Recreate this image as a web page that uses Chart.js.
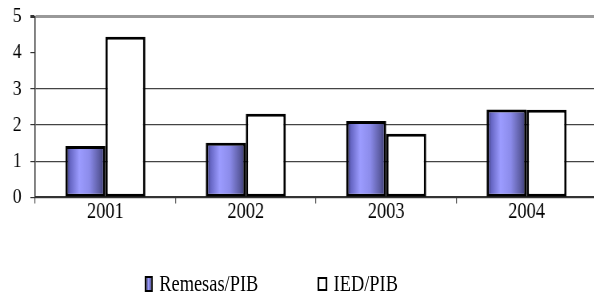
<!DOCTYPE html>
<html>
<head>
<meta charset="utf-8">
<script src="https://cdn.jsdelivr.net/npm/chart.js@4/dist/chart.umd.min.js"></script>
<style>
  html, body { margin: 0; padding: 0; background: #fff; overflow: hidden; }
  /* the original picture is squeezed sideways, so draw wide and condense */
  #wrap { position: relative; width: 750px; height: 297px; transform: scaleX(0.8); transform-origin: 0 0; }
  #chart { display: block; }
  #legend { position: absolute; left: 0; top: 270px; width: 750px; height: 27px; font-family: "Liberation Serif", "Times New Roman", serif; font-size: 23px; color: #000; }
  .item { position: absolute; top: 0; white-space: nowrap; line-height: 27px; }
  .box { display: inline-block; vertical-align: middle; box-sizing: border-box; border: 2px solid #000; margin-right: 8px; margin-top: -3px; }
</style>
</head>
<body>
<div id="wrap">
  <canvas id="chart" width="750" height="297" style="width:750px;height:297px"></canvas>
  <div id="legend"></div>
</div>
<script>
const years = ['2001', '2002', '2003', '2004'];
const remesasPib = [1.42, 1.51, 2.11, 2.43];
const iedPib = [4.44, 2.31, 1.76, 2.42];
const yTicks = [0, 1, 2, 3, 4, 5];

const SERIF = '"Liberation Serif", "Times New Roman", serif';
const CAT_PCT = 0.57;

// shaded "cylinder" fill across each blue bar
function remesasFill(ctx) {
  const chart = ctx.chart;
  const x = chart.scales && chart.scales.x;
  if (!x || ctx.dataIndex === undefined || !chart.chartArea) return '#8c8cf0';
  const bw = (x.width / years.length) * CAT_PCT / 2;
  const right = x.getPixelForValue(ctx.dataIndex);
  const left = right - bw;
  const g = chart.ctx.createLinearGradient(left, 0, right, 0);
  g.addColorStop(0, '#2c2c58');
  g.addColorStop(0.12, '#6666c4');
  g.addColorStop(0.35, '#9c9cff');
  g.addColorStop(0.6, '#8c8ceb');
  g.addColorStop(0.85, '#5c5ca2');
  g.addColorStop(1, '#363668');
  return g;
}

const htmlLegend = {
  id: 'htmlLegend',
  afterUpdate(chart) {
    const el = document.getElementById('legend');
    el.innerHTML = '';
    const spots = [181, 397];
    chart.data.datasets.forEach((ds, i) => {
      const item = document.createElement('span');
      item.className = 'item';
      item.style.left = spots[i] + 'px';
      const box = document.createElement('span');
      box.className = 'box';
      if (i === 0) {
        box.style.width = '10px'; box.style.height = '16px';
        box.style.background = 'linear-gradient(90deg, #3a3a70, #9c9cff 40%, #5c5ca2)';
      } else {
        box.style.width = '12px'; box.style.height = '14px';
        box.style.background = '#fff';
      }
      item.appendChild(box);
      item.appendChild(document.createTextNode(ds.label));
      el.appendChild(item);
    });
  }
};

new Chart(document.getElementById('chart'), {
  type: 'bar',
  data: {
    labels: years,
    datasets: [
      {
        label: 'Remesas/PIB',
        data: remesasPib,
        backgroundColor: remesasFill,
        borderColor: '#000',
        borderWidth: 3,
        borderSkipped: false
      },
      {
        label: 'IED/PIB',
        data: iedPib,
        backgroundColor: '#fff',
        borderColor: '#000',
        borderWidth: 3,
        borderSkipped: false
      }
    ]
  },
  options: {
    responsive: false,
    devicePixelRatio: 1,
    animation: false,
    layout: { padding: { left: 5, right: 4, top: 15, bottom: 76 } },
    datasets: { bar: { categoryPercentage: CAT_PCT, barPercentage: 1 } },
    plugins: {
      legend: { display: false },
      tooltip: { enabled: false }
    },
    scales: {
      x: {
        grid: { offset: true, drawOnChartArea: false, drawTicks: true, tickLength: 6, color: '#555', lineWidth: 1.2 },
        border: { display: true, color: '#333', width: 2 },
        ticks: { color: '#000', font: { family: SERIF, size: 23 }, padding: -5 }
      },
      y: {
        min: 0,
        max: 5,
        afterBuildTicks(axis) { axis.ticks = yTicks.map(v => ({ value: v })); },
        grid: {
          drawTicks: true,
          tickLength: 6,
          tickColor: '#333',
          color: c => c.tick.value === 4 ? 'rgba(0,0,0,0)' : (c.tick.value === 5 ? '#999' : '#444'),
          lineWidth: c => c.tick.value === 5 ? 3 : 1.2
        },
        border: { display: true, color: '#333', width: 1.5 },
        ticks: { color: '#000', font: { family: SERIF, size: 22, lineHeight: 0.5 }, padding: 11 }
      }
    }
  },
  plugins: [htmlLegend]
});
</script>
</body>
</html>
